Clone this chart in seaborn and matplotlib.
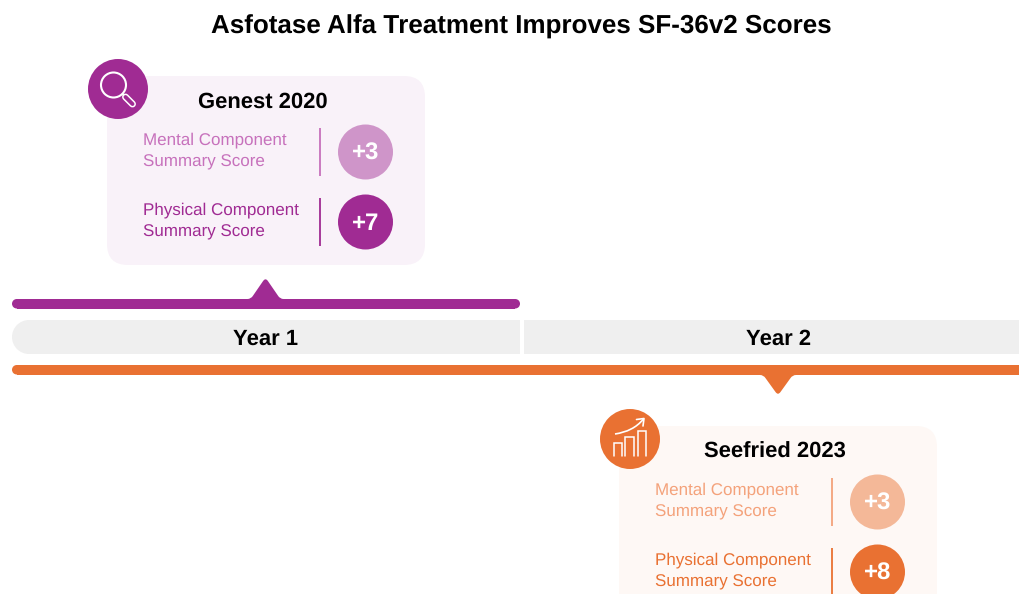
import matplotlib
matplotlib.use("Agg")
import matplotlib.pyplot as plt
from matplotlib.patches import FancyBboxPatch, Circle, Rectangle, PathPatch
from matplotlib.path import Path
import pandas as pd
import seaborn as sns

# ---- data ----
title = "Asfotase Alfa Treatment Improves SF-36v2 Scores"
years = ["Year 1", "Year 2"]
studies = ["Genest 2020", "Seefried 2023"]
measures = ["Mental Component\nSummary Score", "Physical Component\nSummary Score"]
genest_scores = [3, 7]
seefried_scores = [3, 8]

# ---- style ----
PURPLE, PURPLE_SOFT, PURPLE_TEXT, PURPLE_BG = "#A02B93", "#CF95C9", "#C771BC", "#F9F2F9"
ORANGE, ORANGE_SOFT, ORANGE_TEXT, ORANGE_BG = "#E97132", "#F4B898", "#F4A27B", "#FEF8F5"
GREY = "#EFEFEF"
PT = 0.72  # points per pixel at dpi 100

sns.set_theme(style="white")
plt.rcParams["font.family"] = ["Liberation Sans", "DejaVu Sans"]
plt.rcParams["text.hinting"] = "no_hinting"
plt.rcParams["text.hinting_factor"] = 1

fig = plt.figure(figsize=(10.19, 5.94), dpi=100)
ax = fig.add_axes([0, 0, 1, 1])
ax.set_xlim(0, 1019)
ax.set_ylim(594, 0)
ax.axis("off")

ax.text(521.5, 27, title, ha="center", va="center", fontsize=18.97, fontweight="bold", color="black")


def pill(x0, x1, y0, y1, color, z=2):
    r = (y1 - y0) / 2
    ax.add_patch(Rectangle((x0 + r, y0), x1 - x0 - 2 * r, y1 - y0, fc=color, ec="none", zorder=z))
    ax.add_patch(Circle((x0 + r, y0 + r), r, fc=color, ec="none", zorder=z))
    ax.add_patch(Circle((x1 - r, y0 + r), r, fc=color, ec="none", zorder=z))


def pointer(cx, ybase, h, color):
    """Rounded timeline pointer; h is signed (negative points up)."""
    s = h / abs(h)
    verts = [
        (cx - 18, ybase + s), (cx - 14.5, ybase + s), (cx - 12.5, ybase + 0.2 * h),
        (cx - 2.6, ybase + 0.87 * h), (cx, ybase + 1.06 * h), (cx + 2.6, ybase + 0.87 * h),
        (cx + 12.5, ybase + 0.2 * h), (cx + 14.5, ybase + s), (cx + 18, ybase + s),
        (cx - 18, ybase + s),
    ]
    codes = [Path.MOVETO, Path.CURVE3, Path.CURVE3, Path.LINETO, Path.CURVE3, Path.CURVE3,
             Path.LINETO, Path.CURVE3, Path.CURVE3, Path.CLOSEPOLY]
    ax.add_patch(PathPatch(Path(verts, codes), fc=color, ec="none", zorder=2))


# timeline bars
pill(12, 520, 299, 308.5, PURPLE)
pointer(265.5, 300, -21.5, PURPLE)
pill(12, 1060, 365, 374.5, ORANGE)
pointer(778, 374, 20.5, ORANGE)

# year bands
band_edges = [(12, 520), (524, 1019)]
for label, (x0, x1), cx in zip(years, band_edges, [265.5, 778.3]):
    if x0 == 12:
        ax.add_patch(Circle((x0 + 17, 337), 17, fc=GREY, ec="none", zorder=2))
        ax.add_patch(Rectangle((x0 + 17, 320), x1 - x0 - 17, 34, fc=GREY, ec="none", zorder=2))
    else:
        ax.add_patch(Rectangle((x0, 320), x1 - x0, 34, fc=GREY, ec="none", zorder=2))
    ax.text(cx, 339, label, ha="center", va="center",
            fontsize=15.8, fontweight="bold", color="black", zorder=3)


# study cards
def card(name, scores, x, y, strong, soft, soft_text, bg):
    ax.add_patch(FancyBboxPatch((x + 21, y + 21), 276, 147,
                                boxstyle="round,pad=21,rounding_size=21",
                                fc=bg, ec="none", zorder=1))
    ax.text(x + 156, y + 26.5, name, ha="center", va="center", fontsize=15.55,
            fontweight="bold", color="black", zorder=3)
    rows = pd.DataFrame({
        "cx": [x + 258.5, x + 258.5],
        "cy": [y + 76, y + 146],
        "kind": ["Mental", "Physical"],
    })
    sns.scatterplot(data=rows, x="cx", y="cy", hue="kind", palette=[soft, strong],
                    s=(55 * PT) ** 2, linewidth=0, legend=False, ax=ax, zorder=3, clip_on=True)
    for i, (m, v) in enumerate(zip(measures, scores)):
        cy = y + 76 + 70 * i
        tcol = soft_text if i == 0 else strong
        top, bottom = m.split("\n")
        ax.text(x + 36, cy - 11.5, top, ha="left", va="center", fontsize=12.6, color=tcol, zorder=3)
        ax.text(x + 36, cy + 10, bottom, ha="left", va="center", fontsize=12.6, color=tcol, zorder=3)
        ax.plot([x + 213.3, x + 213.3], [cy - 24, cy + 24], color=strong if i else soft_text,
                lw=1.3, zorder=3, solid_capstyle="butt")
        ax.text(x + 258.5, cy + 2, f"+{v}", ha="center", va="center", fontsize=17,
                fontweight="bold", color="white", zorder=4)


card(studies[0], genest_scores, 107, 76, PURPLE, PURPLE_SOFT, PURPLE_TEXT, PURPLE_BG)
card(studies[1], seefried_scores, 619, 426, ORANGE, ORANGE_SOFT, ORANGE_TEXT, ORANGE_BG)

# magnifier icon
ax.add_patch(Circle((118, 89), 30, fc=PURPLE, ec="none", zorder=5))
ax.add_patch(Circle((113.5, 85), 12.5, fc="none", ec="white", lw=1.5, zorder=6))
ax.plot([122.5, 124.5], [94, 96], color="white", lw=1.3, zorder=6)
ax.plot([125.5, 132.5], [97, 104], color="white", lw=5, solid_capstyle="round", zorder=6)
ax.plot([125.5, 132.5], [97, 104], color=PURPLE, lw=2.8, solid_capstyle="round", zorder=6)

# growth chart icon
ax.add_patch(Circle((630, 439), 30, fc=ORANGE, ec="none", zorder=5))
for x0, x1, top in [(614.5, 622.5, 443), (625.5, 634, 437), (638, 646.5, 430.5)]:
    ax.plot([x0, x0, x1, x1], [456, top, top, 456], color="white", lw=1.1, zorder=6,
            solid_joinstyle="miter")
curve = Path([(615, 434), (627, 432), (636, 428), (643.5, 419)],
             [Path.MOVETO, Path.CURVE4, Path.CURVE4, Path.CURVE4])
ax.add_patch(PathPatch(curve, fc="none", ec="white", lw=1.2, zorder=6))
ax.plot([636.5, 644, 643], [419.5, 418.5, 426], color="white", lw=1.2, zorder=6)

fig.savefig("out.png", dpi=100, facecolor="white")
